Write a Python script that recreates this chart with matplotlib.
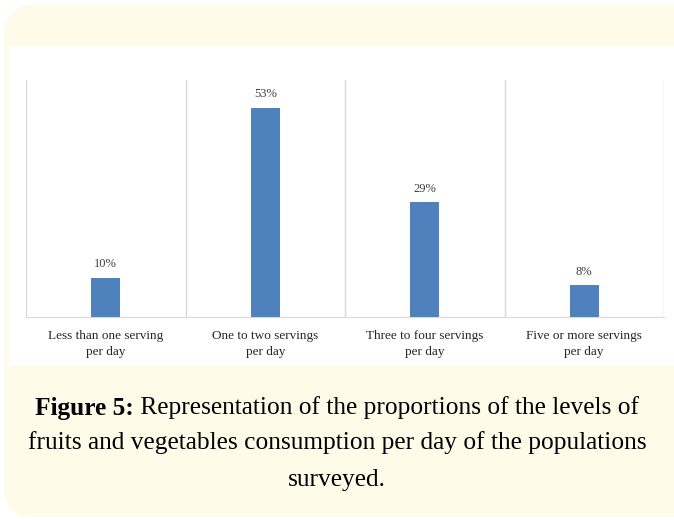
import matplotlib.pyplot as plt
from matplotlib.patches import FancyBboxPatch, Rectangle

plt.rcParams["font.family"] = "Liberation Serif"

categories = ["Less than one serving\nper day", "One to two servings\nper day",
              "Three to four servings\nper day", "Five or more servings\nper day"]
shares = [10, 53, 29, 8]
caption_bold = "Figure 5:"
caption_lines = [" Representation of the proportions of the levels of",
                 "fruits and vegetables consumption per day of the populations",
                 "surveyed."]

W, H = 674, 522
fig = plt.figure(figsize=(W / 100, H / 100), dpi=100)
fig.patch.set_facecolor("white")

# cream card with rounded corners
card = FancyBboxPatch((4 / W, 5 / H), 700 / W, 512 / H,
                      boxstyle="round,pad=0,rounding_size=0.045",
                      transform=fig.transFigure, facecolor="#fefbe9",
                      edgecolor="none", zorder=0, mutation_aspect=W / H)
fig.patches.append(card)
# white chart panel
panel = Rectangle((9 / W, 1 - 365 / H), 700 / W, 319 / H,
                  transform=fig.transFigure, facecolor="white",
                  edgecolor="none", zorder=1)
fig.patches.append(panel)

ax = fig.add_axes([26 / W, 1 - 317 / H, 638 / W, 237 / H])
ax.set_zorder(3)
ax.set_facecolor("none")
x = range(len(categories))
bars = ax.bar(x, shares, width=0.18, color="#4f81bd", zorder=3)
for b, v in zip(bars, shares):
    ax.text(b.get_x() + b.get_width() / 2, v + 3.5, f"{v}%",
            ha="center", va="center", fontsize=9, color="#404040")

ax.set_xlim(-0.5, len(categories) - 0.5)
ax.set_ylim(0, 60)
for xb in [i - 0.5 for i in range(len(categories) + 1)]:
    ax.axvline(xb, color="#d9d9d9", lw=1, zorder=1)
ax.set_xticks(list(x))
ax.set_xticklabels(categories, fontsize=9.5, color="#262626", linespacing=1.45)
ax.tick_params(axis="x", length=0, pad=9)
ax.set_yticks([])
for s in ["top", "left", "right"]:
    ax.spines[s].set_visible(False)
ax.spines["bottom"].set_color("#d9d9d9")

# caption: bold lead-in followed by regular text
cap_size = 18.3
renderer = fig.canvas.get_renderer()
tb = fig.text(0, 0, caption_bold, fontsize=cap_size, fontweight="bold")
tr = fig.text(0, 0, caption_lines[0], fontsize=cap_size)
wb = tb.get_window_extent(renderer).width
wr = tr.get_window_extent(renderer).width
x0 = (W / 2 - (wb + wr) / 2) / W
tb.set_position((x0, 1 - 408 / H))
tb.set_va("center")
tr.set_position((x0 + wb / W, 1 - 408 / H))
tr.set_va("center")
fig.text(0.5, 1 - 443 / H, caption_lines[1], fontsize=cap_size,
         ha="center", va="center")
fig.text(0.5, 1 - 480 / H, caption_lines[2], fontsize=cap_size,
         ha="center", va="center")

fig.savefig("out.png", dpi=100)
